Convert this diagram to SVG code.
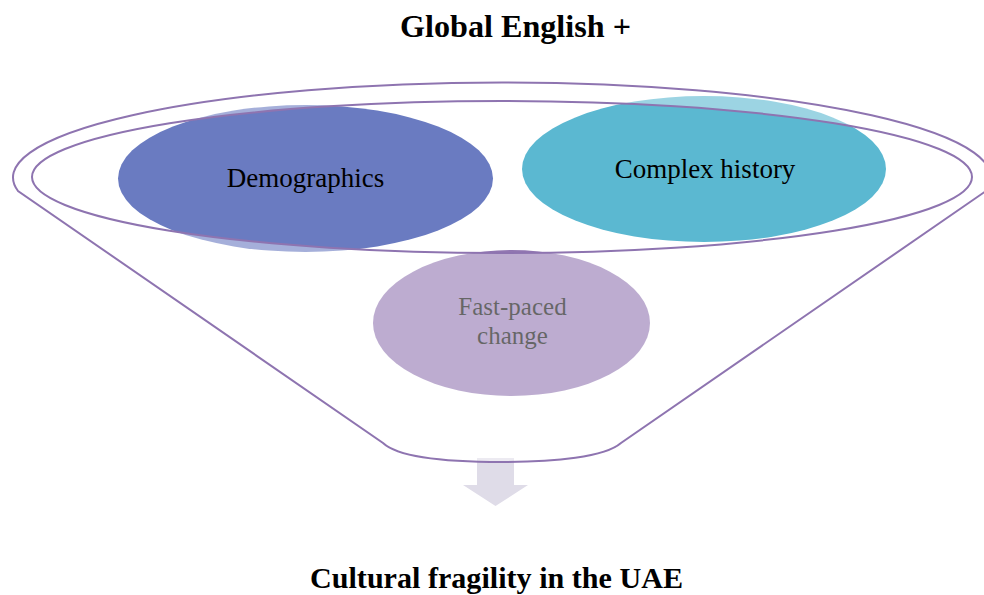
<svg xmlns="http://www.w3.org/2000/svg" width="984" height="595" viewBox="0 0 984 595">
<style>
.title{font-family:"Liberation Serif","Times New Roman",serif;font-weight:bold;font-size:31px;fill:#000;text-anchor:middle}
.lbl{font-family:"Liberation Serif","Times New Roman",serif;font-size:27px;fill:#000;text-anchor:middle}
.funnel{fill:#ffffff;fill-opacity:0.4;fill-rule:evenodd;stroke:#8E74B0;stroke-width:2}
</style>
<rect width="984" height="595" fill="#ffffff"/>
<text class="title" x="515.5" y="37" textLength="231" lengthAdjust="spacingAndGlyphs">Global English +</text>
<g id="connectors">
<polygon id="arrow" points="477,458 514,458 514,485 528,485 495.5,506 463,485 477,485" fill="#DFDCE8"/>
</g>
<g id="demographics">
<ellipse cx="305.5" cy="178.5" rx="187.5" ry="73.5" fill="#6A7BC1"/>
<text class="lbl" x="305.5" y="187">Demographics</text>
</g>
<g id="complex-history">
<ellipse cx="704" cy="169" rx="182" ry="73" fill="#5BB8D1"/>
<text class="lbl" x="705" y="178">Complex history</text>
</g>
<g id="fast-paced-change">
<ellipse cx="511.5" cy="323" rx="138.5" ry="73" fill="#9176B1"/>
<text class="lbl" style="font-size:25px" fill="#111"><tspan x="512.5" y="315">Fast-paced</tspan><tspan x="512.5" y="344">change</tspan></text>
</g>
<g id="funnel">
<path class="funnel" d="M 18,191 A 489 95 0 1 1 986,191 L 621,443 C 605,457 555,462 502,462 C 449,462 399,458 383,443 Z M 32,177 A 470 76 0 1 0 972,177 A 470 76 0 1 0 32,177 Z"/>
</g>
<text class="title" style="font-size:29px" x="496.5" y="588" textLength="373" lengthAdjust="spacingAndGlyphs">Cultural fragility in the UAE</text>
</svg>
